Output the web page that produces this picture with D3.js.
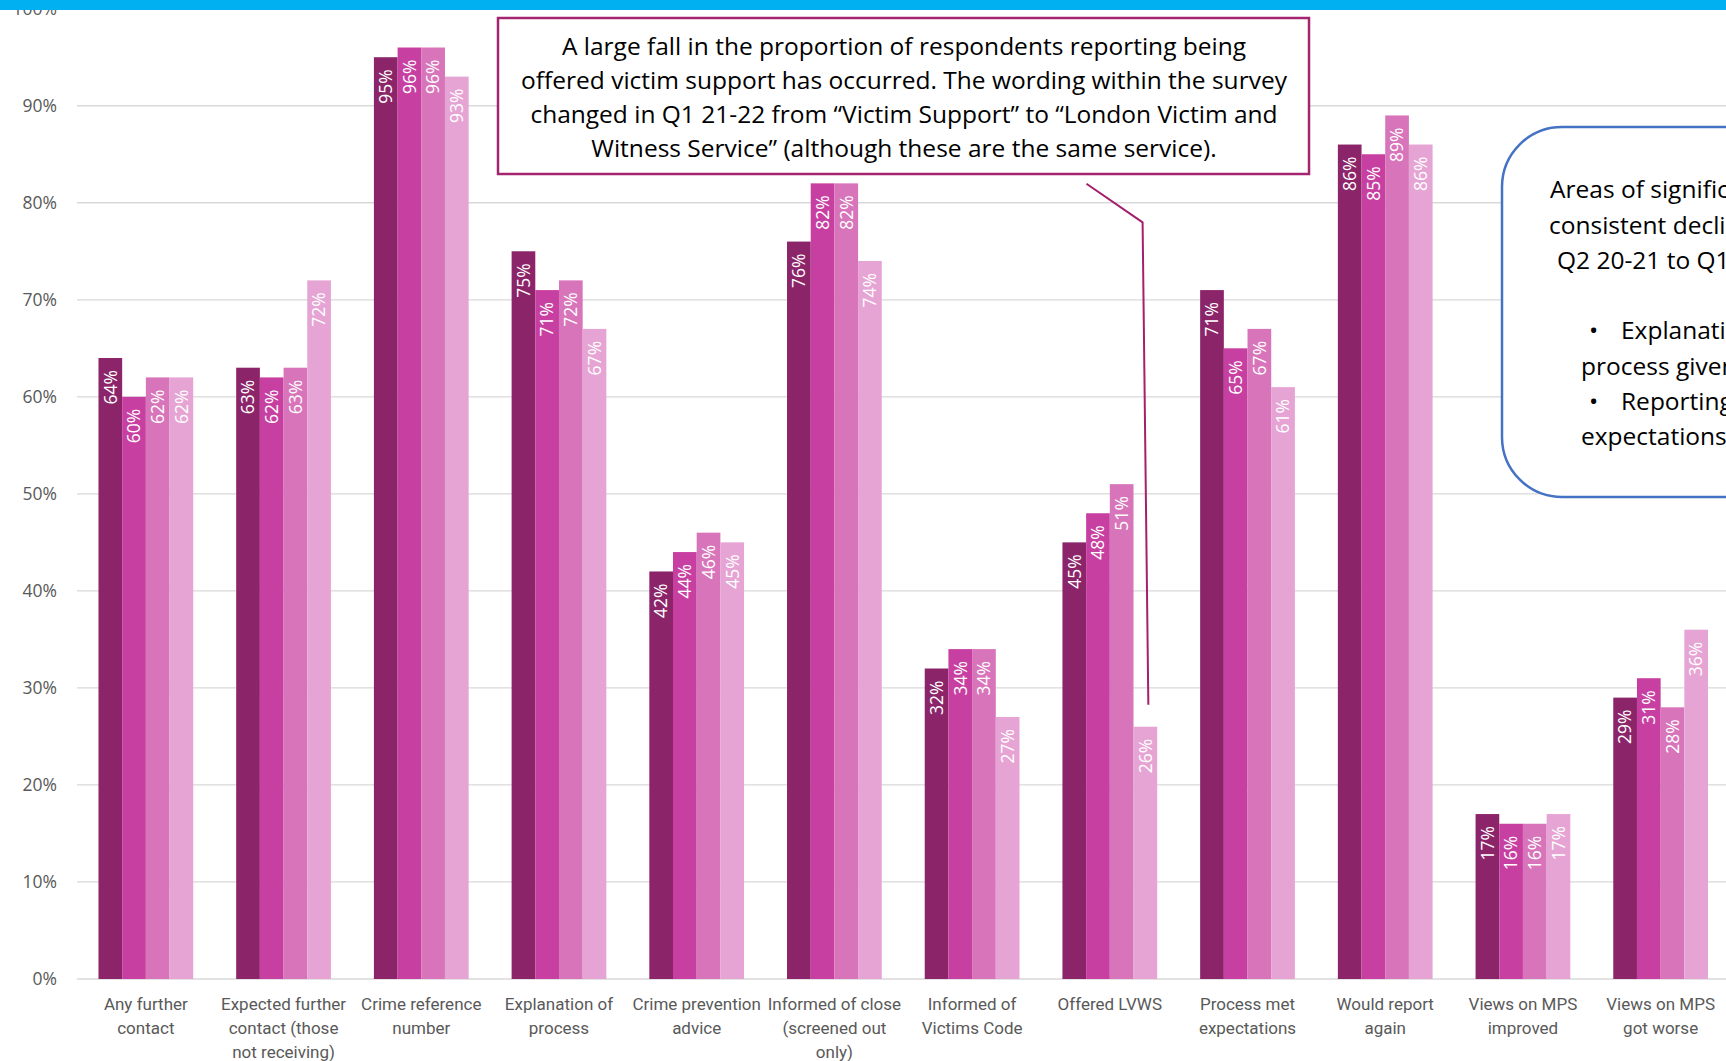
<!DOCTYPE html>
<html>
<head>
<title>Victim survey measures by quarter</title>
<script src="https://d3js.org/d3.v7.min.js"></script>
<style>
    body { margin: 0; background: #fff; }
    svg { display: block; }
    .tick-label { font: 17.5px "Open Sans", sans-serif; fill: #595959; }
    .cat-label { font: 17px "Liberation Sans Narrow", "Roboto", sans-serif; fill: #595959; }
    .bar-label { font: 17.5px "Open Sans", sans-serif; fill: #fff; }
    .note { font: 24.5px "Open Sans", sans-serif; fill: #000; }
</style>
</head>
<body>
<svg width=1726 height=1061></svg>
<script>
// categories (wrapped as in the original axis)
var categories = [
    ["Any further", "contact"],
    ["Expected further", "contact (those", "not receiving)"],
    ["Crime reference", "number"],
    ["Explanation of", "process"],
    ["Crime prevention", "advice"],
    ["Informed of close", "(screened out", "only)"],
    ["Informed of", "Victims Code"],
    ["Offered LVWS"],
    ["Process met", "expectations"],
    ["Would report", "again"],
    ["Views on MPS", "improved"],
    ["Views on MPS", "got worse"]
];
var seriesNames = ["Q2 20-21", "Q3 20-21", "Q4 20-21", "Q1 21-22"];
var q2_2021 = [64, 63, 95, 75, 42, 76, 32, 45, 71, 86, 17, 29];
var q3_2021 = [60, 62, 96, 71, 44, 82, 34, 48, 65, 85, 16, 31];
var q4_2021 = [62, 63, 96, 72, 46, 82, 34, 51, 67, 89, 16, 28];
var q1_2122 = [62, 72, 93, 67, 45, 74, 27, 26, 61, 86, 17, 36];
var colors = ["#8b2469", "#c83fa2", "#d874ba", "#e6a4d4"];
var yTicks = [0, 10, 20, 30, 40, 50, 60, 70, 80, 90, 100];

var series = [q2_2021, q3_2021, q4_2021, q1_2122];

var svg = d3.select("svg");

var xs = d3.scaleBand().domain(d3.range(categories.length)).range([77, 1729.5])
    .paddingInner(0.312).paddingOuter(0.156);
var xsub = d3.scaleBand().domain(d3.range(series.length)).range([0, xs.bandwidth()]);
var ys = d3.scaleLinear().domain([0, 100]).range([979, 8.7]);

// gridlines
svg.append("g")
    .selectAll("line")
    .data(yTicks)
    .enter()
    .append("line")
        .attr("x1", 77)
        .attr("x2", 1726)
        .attr("y1", function(d){return ys(d)})
        .attr("y2", function(d){return ys(d)})
        .attr("stroke", "#d9d9d9")
        .attr("stroke-width", 1.3);

// y tick labels
svg.append("g")
    .selectAll("text")
    .data(yTicks)
    .enter()
    .append("text")
        .attr("class", "tick-label")
        .attr("x", 57)
        .attr("y", function(d){return ys(d)})
        .attr("dy", "0.36em")
        .attr("text-anchor", "end")
        .text(function(d){return d + "%"});

// bars
var groups = svg.append("g")
    .selectAll("g")
    .data(categories)
    .enter()
    .append("g")
        .attr("transform", function(d, i){return "translate(" + xs(i) + ",0)"});

groups.selectAll("rect")
    .data(function(d, i){return series.map(function(s, j){return {s: j, v: s[i]}})})
    .enter()
    .append("rect")
        .attr("x", function(d){return xsub(d.s)})
        .attr("width", xsub.bandwidth())
        .attr("y", function(d){return ys(d.v)})
        .attr("height", function(d){return ys(0) - ys(d.v)})
        .attr("fill", function(d){return colors[d.s]});

groups.selectAll("text")
    .data(function(d, i){return series.map(function(s, j){return {s: j, v: s[i]}})})
    .enter()
    .append("text")
        .attr("class", "bar-label")
        .attr("text-anchor", "end")
        .attr("dy", "0.36em")
        .attr("transform", function(d){
            return "translate(" + (xsub(d.s) + xsub.bandwidth() / 2) + "," + (ys(d.v) + 12) + ") rotate(-90)";
        })
        .text(function(d){return d.v + "%"});

// category labels
svg.append("g")
    .selectAll("text")
    .data(categories)
    .enter()
    .append("text")
        .attr("class", "cat-label")
        .attr("text-anchor", "middle")
        .attr("x", function(d, i){return xs(i) + xs.bandwidth() / 2})
        .attr("y", 1004)
        .each(function(d){
            var t = d3.select(this);
            d.forEach(function(line, k){
                t.append("tspan")
                    .attr("x", t.attr("x"))
                    .attr("y", 1004 + k * 24)
                    .attr("dy", "0.36em")
                    .text(line);
            });
        });

// callout line pointing at the Offered LVWS Q1 21-22 bar
var tipX = xs(7) + xsub(3) + xsub.bandwidth() / 2 + 3;
var tipY = ys(q1_2122[7]) - 22;
svg.append("polyline")
    .attr("points", "1086.5,183.8 1142.6,222.4 " + tipX + "," + tipY)
    .attr("fill", "none")
    .attr("stroke", "#a3206d")
    .attr("stroke-width", 2);

// note box 1
svg.append("rect")
    .attr("x", 498)
    .attr("y", 18)
    .attr("width", 811)
    .attr("height", 156)
    .attr("fill", "#fff")
    .attr("stroke", "#a5246f")
    .attr("stroke-width", 2.5);

var note1 = [
    "A large fall in the proportion of respondents reporting being",
    "offered victim support has occurred. The wording within the survey",
    "changed in Q1 21-22 from \u201cVictim Support\u201d to \u201cLondon Victim and",
    "Witness Service\u201d (although these are the same service)."
];
svg.append("g")
    .selectAll("text")
    .data(note1)
    .enter()
    .append("text")
        .attr("class", "note")
        .attr("text-anchor", "middle")
        .attr("x", 904)
        .attr("y", function(d, i){return 46.5 + i * 33.8})
        .attr("dy", "0.36em")
        .text(function(d){return d});

// note box 2 (runs off the right edge)
svg.append("rect")
    .attr("x", 1502)
    .attr("y", 127)
    .attr("width", 400)
    .attr("height", 370)
    .attr("rx", 60)
    .attr("ry", 60)
    .attr("fill", "#fff")
    .attr("stroke", "#4472c4")
    .attr("stroke-width", 2.5);

var note2 = [
    {x: 1550, y: 189.5, t: "Areas of significant and"},
    {x: 1549, y: 225, t: "consistent decline from"},
    {x: 1557, y: 260.5, t: "Q2 20-21 to Q1 21-22:"},
    {x: 1589, y: 330.5, t: "\u2022"},
    {x: 1621, y: 330.5, t: "Explanation of"},
    {x: 1581, y: 366, t: "process given"},
    {x: 1589, y: 401, t: "\u2022"},
    {x: 1621, y: 401, t: "Reporting met"},
    {x: 1581, y: 436.5, t: "expectations"}
];
svg.append("g")
    .selectAll("text")
    .data(note2)
    .enter()
    .append("text")
        .attr("class", "note")
        .attr("x", function(d){return d.x})
        .attr("y", function(d){return d.y})
        .attr("dy", "0.36em")
        .text(function(d){return d.t});

// blue strip across the top
svg.append("rect")
    .attr("x", 0)
    .attr("y", 0)
    .attr("width", 1726)
    .attr("height", 10)
    .attr("fill", "#00b0f0");
</script>
</body>
</html>
